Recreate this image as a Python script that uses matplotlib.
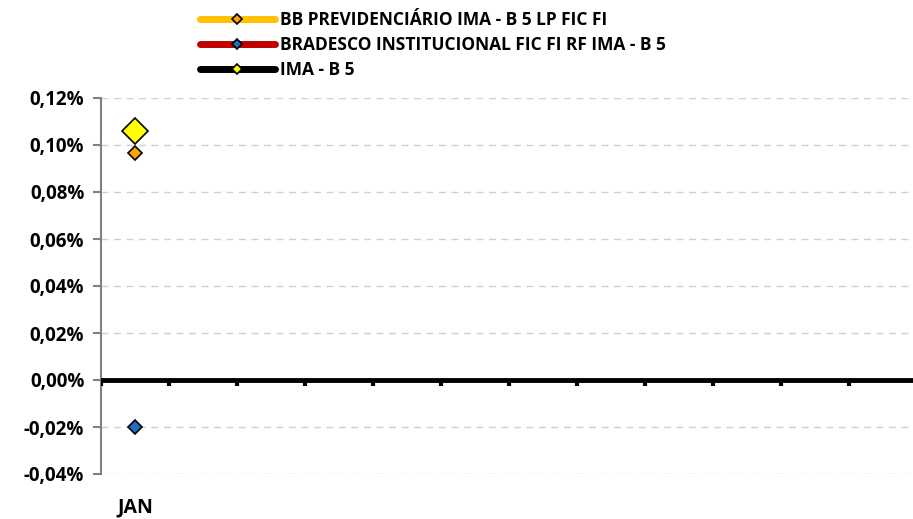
"""Monthly return chart: BB / Bradesco funds vs IMA - B 5 benchmark."""

import matplotlib

matplotlib.use("Agg")
import matplotlib.pyplot as plt
import numpy as np
from matplotlib.lines import Line2D
from matplotlib.ticker import FuncFormatter, MultipleLocator

plt.rcParams["font.family"] = ["Open Sans", "DejaVu Sans"]
plt.rcParams["font.weight"] = "bold"

MONTHS = ["JAN", "", "", "", "", "", "", "", "", "", "", ""]
NAN = np.nan
BB_PREV = [0.0965, NAN, NAN, NAN, NAN, NAN, NAN, NAN, NAN, NAN, NAN, NAN]
BRADESCO = [-0.0200, NAN, NAN, NAN, NAN, NAN, NAN, NAN, NAN, NAN, NAN, NAN]
IMA_B5 = [0.1060, NAN, NAN, NAN, NAN, NAN, NAN, NAN, NAN, NAN, NAN, NAN]

SERIES = [
    ("BB PREVIDENCIÁRIO IMA - B 5 LP FIC FI", BB_PREV, "#FFC000", "#FFA500", 7),
    ("BRADESCO INSTITUCIONAL FIC FI RF IMA - B 5", BRADESCO, "#C00000", "#1F6FBF", 7),
    ("IMA - B 5", IMA_B5, "#000000", "#FFFF00", 13),
]

fig = plt.figure(figsize=(9.13, 5.19), dpi=100)
ax = fig.add_axes([101 / 913, 45 / 519, 816 / 913, 376 / 519])

x = np.arange(len(MONTHS))
handles = []
for label, values, line_color, face, size in SERIES:
    ax.plot(x, values, color=line_color, linewidth=4, marker="D",
            markersize=size, markerfacecolor=face, markeredgecolor="black",
            markeredgewidth=1.2, zorder=4)
    handles.append(Line2D([], [], color=line_color, linewidth=5,
                          solid_capstyle="round", marker="D", markersize=5,
                          markerfacecolor=face, markeredgecolor="black",
                          markeredgewidth=1.2, label=label))

ax.set_xlim(-0.5, len(MONTHS) - 0.5)
ax.set_ylim(-0.04, 0.12)
ax.yaxis.set_major_locator(MultipleLocator(0.02))
ax.yaxis.set_major_formatter(
    FuncFormatter(lambda v, _: f"{v:.2f}%".replace(".", ",").replace("-0,00", "0,00")))
ax.grid(True, axis="y", color="#D0D0D0", linestyle=(0, (5, 4)), linewidth=1)
ax.set_axisbelow(True)

for side in ("top", "right", "bottom"):
    ax.spines[side].set_visible(False)
ax.spines["left"].set_color("#808080")
ax.spines["left"].set_linewidth(1.5)
ax.tick_params(axis="y", colors="#808080", length=6, width=1.5, labelsize=13.5,
               labelcolor="black", pad=6)

# zero line acts as the category axis
ax.axhline(0, color="black", linewidth=3.5, zorder=3)
ax.set_xticks(x)
ax.set_xticklabels([])
for xb in np.arange(-0.5, len(MONTHS) - 0.5, 1.0):
    ax.plot([xb, xb], [0, -0.0027], color="black", linewidth=3, zorder=3,
            solid_capstyle="butt")
for xi, name in zip(x, MONTHS):
    ax.text(xi, -0.0498, name, ha="center", va="top", fontsize=14,
            fontweight="bold")
ax.tick_params(axis="x", length=0)

fig.legend(handles=handles, loc="upper left", bbox_to_anchor=(200 / 913, 1 - 11 / 519),
           frameon=False, fontsize=12.5, handlelength=4.3, handletextpad=0.3,
           labelspacing=0.4, borderaxespad=0, borderpad=0)

fig.savefig("out.png", dpi=100)
